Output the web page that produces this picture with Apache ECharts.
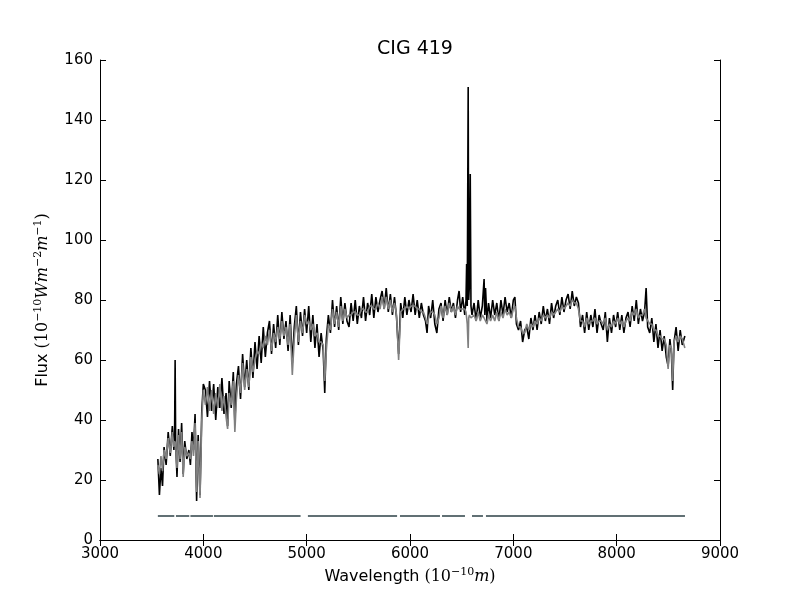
<!DOCTYPE html>
<html>
<head>
<meta charset="utf-8">
<title>CIG 419</title>
<script src="https://cdn.jsdelivr.net/npm/echarts@6/dist/echarts.min.js"></script>
<style>
  html, body { margin: 0; padding: 0; background: #fff; }
  #chart { width: 800px; height: 600px; }
</style>
</head>
<body>
<div id="chart"></div>
<script>
// wavelength grid (Angstrom)
const wavelength = [
  3560,3575,3590,3605,3620,3640,3660,3680,3700,3715,3722,3727,3732,3745,3760,3775,3790,3805,3820,3840,3860,3875,3890,3905,3920,3935,3950,3968,3985,4000,
  4020,4040,4060,4080,4100,4120,4140,4160,4180,4200,4220,4235,4250,4270,4290,4305,4320,4340,4360,4380,4400,4420,4440,4460,4480,
  4500,4520,4540,4560,4580,4600,4620,4640,4660,4680,4700,4720,4740,4760,4780,4800,4820,4840,4861,4880,4900,4920,4940,4960,4980,
  5000,5020,5040,5060,5080,5100,5120,5140,5160,5175,5190,5210,5230,5250,5270,5290,5310,5330,5350,5370,5390,
  5410,5430,5450,5470,5490,5510,5530,5550,5570,5590,5610,5630,5650,5670,5690,5710,5730,5750,5770,5790,5810,5830,5850,5870,
  5890,5910,5930,5950,5970,5990,6010,6030,6050,6070,6090,6110,6130,6150,6165,6180,6200,6220,6240,6260,6280,6300,6320,6340,6360,6380,6400,6420,6440,6460,6475,6490,6510,6530,
  6542,6548,6554,6563,6568,6575,6583,6590,6600,
  6620,6640,6660,6680,6700,6717,6724,6731,6745,6760,6780,6800,6820,6840,6860,6880,6900,6920,6940,6960,6980,7000,
  7015,7030,7050,7070,7090,7110,7130,7150,7170,7190,
  7210,7230,7250,7270,7290,7310,7330,7350,7370,7390,7410,7430,7450,7470,7490,7510,7530,7550,7570,7590,7610,
  7630,7650,7670,7690,7710,7730,7750,7770,7790,7810,7830,7850,7870,7890,7910,7930,7950,7970,7990,8010,8030,8050,8070,8090,8110,8130,8150,8170,8190,8210,8230,8250,8270,8285,8300,
  8320,8340,8360,8380,8400,8420,8440,8460,8480,8498,8515,8530,8542,8555,8575,8595,8615,8635,8660
];

// observed spectrum (black)
const observedFlux = [
  27,15,24,18,31,25,36,28,38,30,36,60,33,21,37,26,39,22,33,27,30,25,36,30,42,13,35,15,43,52,
  50,41,53,43,52,40,51,44,54,42,49,38,53,44,56,39,52,58,47,62,51,60,50,64,54,
  66,57,68,59,71,61,69,73,62,72,64,75,65,76,67,73,63,75,59,71,78,65,76,68,77,
  69,78,66,75,64,72,61,69,63,49,67,75,69,80,71,78,70,81,72,79,73,
  71,79,73,80,72,78,74,81,73,79,75,82,74,81,76,80,83,77,84,76,82,75,81,74,
  62,79,74,81,75,80,76,82,75,80,74,79,75,73,69,78,74,80,72,69,77,79,73,80,75,81,76,79,74,80,83,76,81,75,
  80,92,78,151,80,85,122,78,75,
  79,73,80,74,78,87,75,84,73,79,74,80,75,79,73,80,75,81,76,79,74,80,
  81,72,70,73,66,70,71,67,74,70,
  75,70,76,72,78,73,77,72,79,74,78,80,75,81,76,80,82,77,83,78,81,
  79,71,75,69,76,70,75,71,77,69,75,72,70,76,66,74,69,75,71,76,70,75,69,74,76,71,78,73,80,72,77,73,76,84,71,
  69,74,66,72,64,70,63,68,61,58,67,62,50,66,71,63,70,65,68
];

// model spectrum (grey)
const modelFlux = [
  25,22,28,23,30,27,34,29,36,31,33,33,32,24,35,27,36,21,31,28,29,27,33,28,39,16,33,14,40,50,
  45,51,43,50,42,49,44,52,43,48,41,37,49,45,53,36,47,55,49,59,50,57,51,61,56,
  60,63,62,66,64,68,65,70,63,69,66,71,67,73,68,71,65,72,55,67,75,66,73,69,75,
  72,73,70,72,68,69,66,66,65,53,63,72,70,77,72,76,71,78,73,77,74,
  75,75,76,76,75,75,77,77,76,76,78,78,77,77,79,77,81,77,81,77,80,76,79,75,
  60,76,77,77,78,77,78,78,78,77,77,76,76,74,72,74,76,76,75,72,74,78,74,78,75,79,76,78,75,78,77,77,77,77,
  76,76,72,64,74,75,75,74,74,
  75,73,76,73,75,74,74,74,72,75,73,75,73,76,73,76,74,77,75,76,74,77,
  78,74,71,71,69,69,72,70,72,71,
  73,72,74,73,75,74,75,74,76,75,76,77,76,78,77,78,79,78,80,79,79,
  77,73,73,71,74,72,73,73,74,72,73,73,72,74,70,72,71,73,72,74,72,73,71,73,74,73,76,75,77,74,75,75,77,74,74,
  72,72,70,70,68,68,67,67,65,57,65,64,53,66,68,66,68,67,64
];

// wavelength ranges used for the fit (bar near the bottom)
const maskRanges = [
  [3560, 3719], [3735, 3864], [3875, 4093], [4102, 4941], [5012, 5875],
  [5903, 6290], [6310, 6532], [6600, 6706], [6735, 8661]
];
const maskLevel = 8;

const xTicks = [3000, 9000, 1000];
const yTicks = [0, 160, 20];

const FONT = 'DejaVu Sans';
const SERIF = 'DejaVu Serif';

function pairs(xs, ys) {
  return xs.map((x, i) => [x, ys[i]]);
}

function maskData() {
  const out = [];
  maskRanges.forEach(r => {
    out.push([r[0], maskLevel], [r[1], maskLevel], [null, null]);
  });
  return out;
}

const chart = echarts.init(document.getElementById('chart'), null, { renderer: 'canvas' });

const tickStyle = { show: true, inside: true, length: 6, lineStyle: { color: '#000', width: 1 } };
const lineStyleAxis = { show: true, lineStyle: { color: '#000', width: 1 } };
const labelStyle = { fontFamily: FONT, fontSize: 15, color: '#000', margin: 7, formatter: v => String(v) };

// mathtext-like rich styles for the axis names
const nameRich = {
  t: { fontFamily: FONT, fontSize: 16, color: '#000' },
  p: { fontFamily: SERIF, fontSize: 16, color: '#000' },
  m: { fontFamily: SERIF, fontStyle: 'italic', fontSize: 16, color: '#000' },
  s: { fontFamily: SERIF, fontSize: 11, color: '#000', verticalAlign: 'top', padding: [0, 0, 8, 0] },
  si: { fontFamily: SERIF, fontStyle: 'italic', fontSize: 11, color: '#000', verticalAlign: 'top', padding: [0, 0, 8, 0] }
};

const option = {
  backgroundColor: '#fff',
  animation: false,
  title: {
    text: 'CIG 419',
    left: 410,
    top: 35,
    textAlign: 'center',
    textStyle: { fontFamily: FONT, fontSize: 19, fontWeight: 'normal', color: '#000' }
  },
  grid: { left: 100, right: 80, top: 60, bottom: 60, containLabel: false },
  xAxis: [
    {
      type: 'value',
      min: xTicks[0], max: xTicks[1], interval: xTicks[2],
      position: 'bottom',
      axisLine: lineStyleAxis,
      axisTick: tickStyle,
      splitLine: { show: false },
      axisLabel: labelStyle,
      name: '{t|Wavelength }{p|(10}{s|−10}{m|m}{p|)}',
      nameLocation: 'middle',
      nameGap: 26,
      nameTextStyle: { fontFamily: FONT, fontSize: 16, color: '#000', rich: nameRich }
    },
    {
      type: 'value',
      min: xTicks[0], max: xTicks[1], interval: xTicks[2],
      position: 'top',
      axisLine: lineStyleAxis,
      axisTick: tickStyle,
      splitLine: { show: false },
      axisLabel: { show: false }
    }
  ],
  yAxis: [
    {
      type: 'value',
      min: yTicks[0], max: yTicks[1], interval: yTicks[2],
      position: 'left',
      axisLine: lineStyleAxis,
      axisTick: tickStyle,
      splitLine: { show: false },
      axisLabel: labelStyle,
      name: '{t|Flux }{p|(10}{s|−10}{m|Wm}{s|−2}{m|m}{s|−1}{p|)}',
      nameLocation: 'middle',
      nameRotate: 90,
      nameGap: 48,
      nameTextStyle: { fontFamily: FONT, fontSize: 16, color: '#000', rich: nameRich }
    },
    {
      type: 'value',
      min: yTicks[0], max: yTicks[1], interval: yTicks[2],
      position: 'right',
      axisLine: lineStyleAxis,
      axisTick: tickStyle,
      splitLine: { show: false },
      axisLabel: { show: false }
    }
  ],
  series: [
    {
      name: 'observed',
      type: 'line',
      data: pairs(wavelength, observedFlux),
      showSymbol: false,
      lineStyle: { color: '#000', width: 1.6 },
      z: 2
    },
    {
      name: 'model',
      type: 'line',
      data: pairs(wavelength, modelFlux),
      showSymbol: false,
      lineStyle: { color: '#808080', width: 1.6 },
      z: 3
    },
    {
      name: 'mask',
      type: 'line',
      data: maskData(),
      connectNulls: false,
      showSymbol: false,
      lineStyle: { color: '#617074', width: 2 },
      z: 4
    }
  ]
};

chart.setOption(option);
</script>
</body>
</html>
